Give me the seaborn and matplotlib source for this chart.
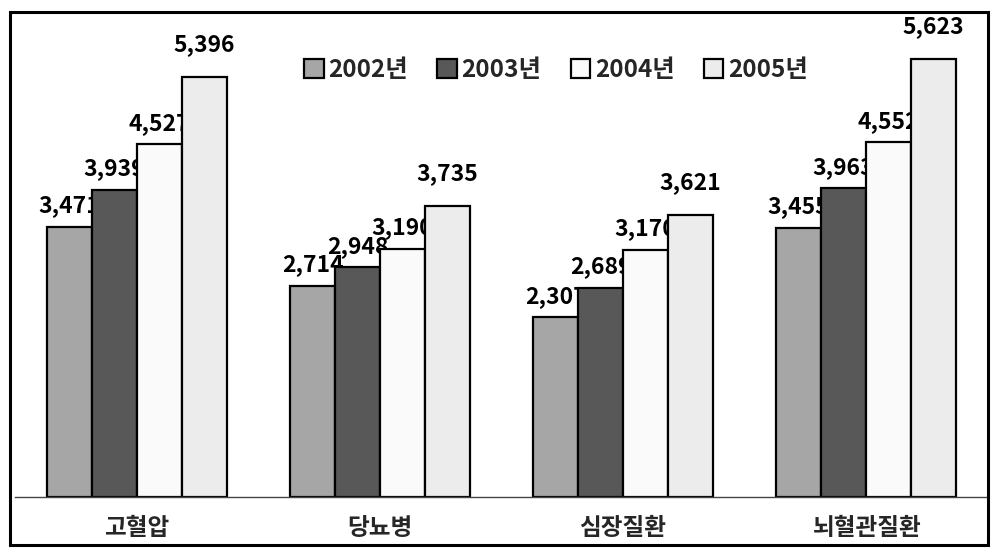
import pandas as pd
import matplotlib
matplotlib.use("Agg")
import matplotlib.pyplot as plt
import matplotlib.patches as mpatches
import seaborn as sns

# 질환별 연도별 진료 인원
질환 = ["고혈압", "당뇨병", "심장질환", "뇌혈관질환"]
연도 = ["2002년", "2003년", "2004년", "2005년"]
값_2002 = [3471, 2714, 2307, 3455]
값_2003 = [3939, 2948, 2689, 3963]
값_2004 = [4527, 3190, 3170, 4552]
값_2005 = [5396, 3735, 3621, 5623]
색상 = ["#a6a6a6", "#585858", "#fafafa", "#ececec"]

sns.set_theme(style="white")
plt.rcParams['font.family'] = ['Noto Sans CJK KR', 'DejaVu Sans']

rows = []
for y, vals in zip(연도, [값_2002, 값_2003, 값_2004, 값_2005]):
    for d, v in zip(질환, vals):
        rows.append({"질환": d, "연도": y, "값": v})
df = pd.DataFrame(rows)

fig = plt.figure(figsize=(9.99, 5.57), dpi=100)
ax = fig.add_axes([15.5 / 999, 60 / 557, 972 / 999, 485 / 557])

sns.barplot(data=df, x="질환", y="값", hue="연도", palette=색상,
            edgecolor="black", linewidth=1.6, width=0.74, ax=ax,
            saturation=1, errorbar=None)

# 막대 위 값 (뒤 막대가 글자를 살짝 가리도록 zorder 낮춤)
for i, cont in enumerate(ax.containers):
    vals = [int(b.get_height()) for b in cont]
    pad = 15 if i == 3 else 7
    txts = ax.bar_label(cont, labels=[f"{v:,}" for v in vals], padding=pad,
                        fontsize=16.5, fontweight="bold", color="black")
    for t in txts:
        t.set_zorder(0.5)

ax.set_ylim(0, 6226)
ax.set_xlim(-0.5, 3.5)
ax.set_xlabel("")
ax.set_ylabel("")
ax.set_yticks([])
for s in ["top", "left", "right"]:
    ax.spines[s].set_visible(False)
ax.spines["bottom"].set_color("#444444")
ax.spines["bottom"].set_linewidth(1.0)

ax.set_xticks(range(len(질환)))
ax.set_xticklabels(질환, fontsize=17, fontweight="bold")
ax.tick_params(axis="x", length=0, pad=14)
ax.set_xticks([0.5, 1.5, 2.5], minor=True)
ax.tick_params(axis="x", which="minor", length=4, direction="in", color="#666666")

handles = [mpatches.Patch(facecolor=c, edgecolor="black", linewidth=1.6) for c in 색상]
leg = ax.legend(handles, 연도, loc="upper center", bbox_to_anchor=(0.556, 0.95),
                ncol=4, frameon=False, fontsize=17.5, handlelength=0.8, handleheight=0.8,
                handletextpad=0.2, columnspacing=1.2)
for t in leg.get_texts():
    t.set_fontweight("bold")

# 바깥 테두리
fig.patches.append(mpatches.Rectangle((10 / 999, 12 / 557), 978 / 999, 533 / 557,
                                      transform=fig.transFigure, fill=False,
                                      edgecolor="black", linewidth=2.2))

fig.savefig("out.png", dpi=100)
